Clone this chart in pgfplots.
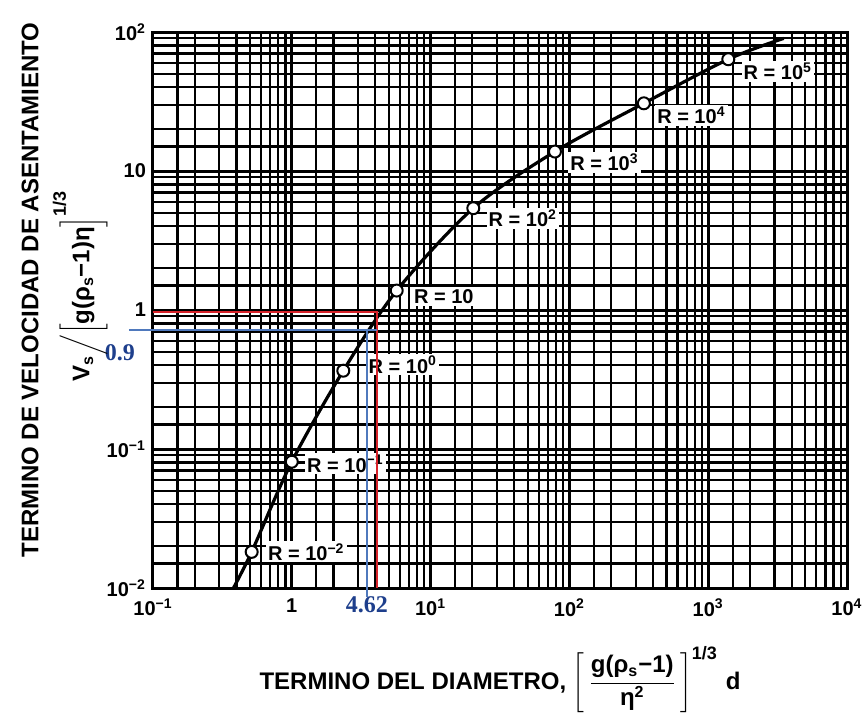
\documentclass[border=0pt]{standalone}
\usepackage{pgfplots}
\pgfplotsset{compat=1.18}
\usepackage{fontspec}
\setmainfont{Liberation Sans}
\newfontfamily\serifb{Liberation Serif}
\definecolor{redl}{HTML}{D8232A}
\definecolor{bluel}{HTML}{4F79BD}
\definecolor{bluet}{HTML}{1E3F8C}
\tikzset{lab/.style={anchor=west, fill=white, inner sep=1pt, font=\fontsize{10}{12}\selectfont\bfseries}}
\begin{document}
\begin{tikzpicture}
\begin{axis}[name=ax,
 xmode=log, ymode=log,
 scale only axis, width=347pt, height=278pt,
 xmin=0.1, xmax=10000, ymin=0.01, ymax=100,
 xtick={0.1,1,10,100,1000,10000},
 xticklabels={10\textsuperscript{−1},1,10\textsuperscript{1},10\textsuperscript{2},10\textsuperscript{3},10\textsuperscript{4}},
 ytick={0.01,0.1,1,10,100},
 yticklabels={10\textsuperscript{−2},10\textsuperscript{−1},1,10,10\textsuperscript{2}},
 minor xtick={0.15,0.2,0.3,0.4,0.5,0.6,0.7,0.8,0.9,1.5,2,3,4,5,6,7,8,9,15,20,30,40,50,60,70,80,90,150,200,300,400,500,600,700,800,900,1500,2000,3000,4000,5000,6000,7000,8000,9000},
 minor ytick={0.015,0.02,0.03,0.04,0.05,0.06,0.07,0.08,0.09,0.15,0.2,0.3,0.4,0.5,0.6,0.7,0.8,0.9,1.5,2,3,4,5,6,7,8,9,15,20,30,40,50,60,70,80,90},
 grid=both,
 major grid style={black, line width=1.5pt},
 minor grid style={black, line width=1.1pt},
 axis line style={black, line width=1.5pt},
 major tick length=0pt, minor tick length=0pt,
 tick label style={font=\fontsize{10}{12}\selectfont\bfseries},
 xticklabel style={yshift=-2pt},
 clip=false,
]
\addplot[black, line width=1.6pt, smooth] coordinates {
 (0.38,0.01) (0.514,0.0182) (1.0,0.081) (2.35,0.366) (5.7,1.38) (20.3,5.4) (78.7,13.8) (344,30.7) (1396,63.7) (3500,90)};
\addplot[only marks, mark=*, mark size=3pt, mark options={fill=white, draw=black, line width=1pt}] coordinates {
 (0.514,0.0182) (1.0,0.081) (2.35,0.366) (5.7,1.38) (20.3,5.4) (78.7,13.8) (344,30.7) (1396,63.7)};
\node[lab, xshift=7pt, yshift=0pt] at (axis cs:0.514,0.0182) {R = 10\textsuperscript{−2}};
\node[lab, xshift=6.5pt, yshift=-1pt] at (axis cs:1.0,0.081) {R = 10\textsuperscript{−1}};
\node[lab, xshift=11.5pt, yshift=3pt] at (axis cs:2.35,0.366) {R = 10\textsuperscript{0}};
\node[lab, xshift=7.5pt, yshift=-3pt] at (axis cs:5.7,1.38) {R = 10};
\node[lab, xshift=6.5pt, yshift=-5pt] at (axis cs:20.3,5.4) {R = 10\textsuperscript{2}};
\node[lab, xshift=6.5pt, yshift=-5.5pt] at (axis cs:78.7,13.8) {R = 10\textsuperscript{3}};
\node[lab, xshift=5.5pt, yshift=-6pt] at (axis cs:344,30.7) {R = 10\textsuperscript{4}};
\node[lab, xshift=6.5pt, yshift=-6pt] at (axis cs:1396,63.7) {R = 10\textsuperscript{5}};
\addplot[redl, line width=1.2pt] coordinates {(0.1,0.972) (4.1,0.972) (4.1,0.01)};
\addplot[bluel, line width=1.2pt] coordinates {(0.067,0.718) (4.1,0.718)};
\addplot[bluel, line width=1.2pt] coordinates {(3.47,0.718) (3.47,0.0086)};
\node[text=bluet, font=\serifb\bfseries\fontsize{12}{14}\selectfont] at (axis cs:0.0578,0.491) {0.9};
\node[text=bluet, font=\serifb\bfseries\fontsize{12}{14}\selectfont] at (axis cs:3.47,0.00755) {4.62};
\node[rotate=90, font=\bfseries\fontsize{12}{14}\selectfont] at (axis description cs:-0.177,0.536) {TERMINO DE VELOCIDAD DE ASENTAMIENTO};
\node[rotate=90, font=\bfseries\fontsize{12}{14}\selectfont] at (axis description cs:-0.105,0.543) {V\textsubscript{s}$\bigg/\biggl[\mbox{g(ρ\textsubscript{s}−1)η}\biggr]^{\mbox{\fontsize{9}{10}\selectfont\bfseries 1/3}}$};
\node[font=\bfseries\fontsize{12}{14}\selectfont] at (axis description cs:0.5,-0.165) {TERMINO DEL DIAMETRO, $\Biggl[\,\displaystyle\frac{\mbox{\fontsize{12}{13}\selectfont\bfseries g(ρ\textsubscript{s}−1)}}{\mbox{\fontsize{12}{13}\selectfont\bfseries η\textsuperscript{2}}}\,\Biggr]^{\mbox{\fontsize{9}{10}\selectfont\bfseries 1/3}}$\hspace{4pt}d};
\end{axis}
\pgfresetboundingbox
\path[use as bounding box] ([xshift=-76.5pt,yshift=-67pt]ax.south west) rectangle ++(433.5pt,361pt);
\end{tikzpicture}
\end{document}
